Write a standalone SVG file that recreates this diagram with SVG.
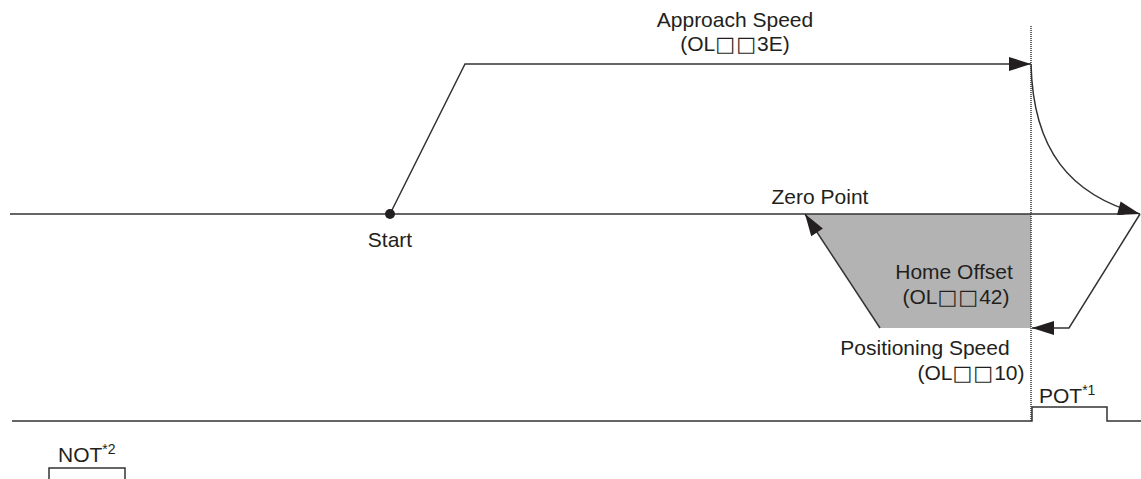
<svg xmlns="http://www.w3.org/2000/svg" width="1141" height="479" viewBox="0 0 1141 479">
<style>
.ln{fill:none;stroke:#333;stroke-width:1.5}
.dot{fill:none;stroke:#333;stroke-width:1.5;stroke-dasharray:1 1}
.t{font-family:"Liberation Sans","DejaVu Sans",Arial,sans-serif;font-size:21px;fill:#231f20}
.m{text-anchor:middle}
.sq{font-family:"DejaVu Sans",sans-serif;font-weight:bold;letter-spacing:1px}
.sup{font-size:14px}
</style>
<defs>
<marker id="ah" markerUnits="userSpaceOnUse" markerWidth="22" markerHeight="14" refX="22" refY="7" orient="auto" overflow="visible">
<path d="M0,0 L22,7 L0,14 Z" fill="#231f20"/>
</marker>
</defs>
<rect width="1141" height="479" fill="#fff"/>
<g id="home-offset-area">
<polygon points="805,214 1031,214 1031,328 880,328" fill="#b3b3b3"/>
</g>
<g id="connectors">
<line class="ln" x1="10" y1="214" x2="1124" y2="214"/>
<polyline class="ln" points="390,214 465,64 1031,64" marker-end="url(#ah)"/>
<path class="ln" d="M1031,64 C1033,150 1070,195 1140,214" marker-end="url(#ah)"/>
<polyline class="ln" points="1140,214 1069,328 1032,328" marker-end="url(#ah)"/>
<line class="ln" x1="880" y1="328" x2="805" y2="214" marker-end="url(#ah)"/>
<line class="dot" x1="1031" y1="26" x2="1031" y2="421"/>
<polyline class="ln" points="12,421 1032,421 1032,407 1107,407 1107,421 1141,421"/>
<polyline class="ln" points="49,479 49,468 125,468 125,479"/>
</g>
<g id="start">
<circle cx="390" cy="214" r="5" fill="#231f20"/>
<text class="t m" x="390" y="247">Start</text>
</g>
<g id="approach-speed">
<text class="t m" x="735" y="27">Approach Speed</text>
<text class="t m" x="735" y="51">(OL<tspan class="sq">□□</tspan>3E)</text>
</g>
<g id="zero-point">
<text class="t m" x="820" y="204">Zero Point</text>
</g>
<g id="home-offset">
<text class="t m" x="954" y="279">Home Offset</text>
<text class="t m" x="956" y="304">(OL<tspan class="sq">□□</tspan>42)</text>
</g>
<g id="positioning-speed">
<text class="t m" x="925" y="355">Positioning Speed</text>
<text class="t m" x="971" y="380">(OL<tspan class="sq">□□</tspan>10)</text>
</g>
<g id="pot">
<text class="t" x="1039" y="403">POT<tspan class="sup" dy="-8">*1</tspan></text>
</g>
<g id="not">
<text class="t" x="58" y="462">NOT<tspan class="sup" dy="-8">*2</tspan></text>
</g>
</svg>
